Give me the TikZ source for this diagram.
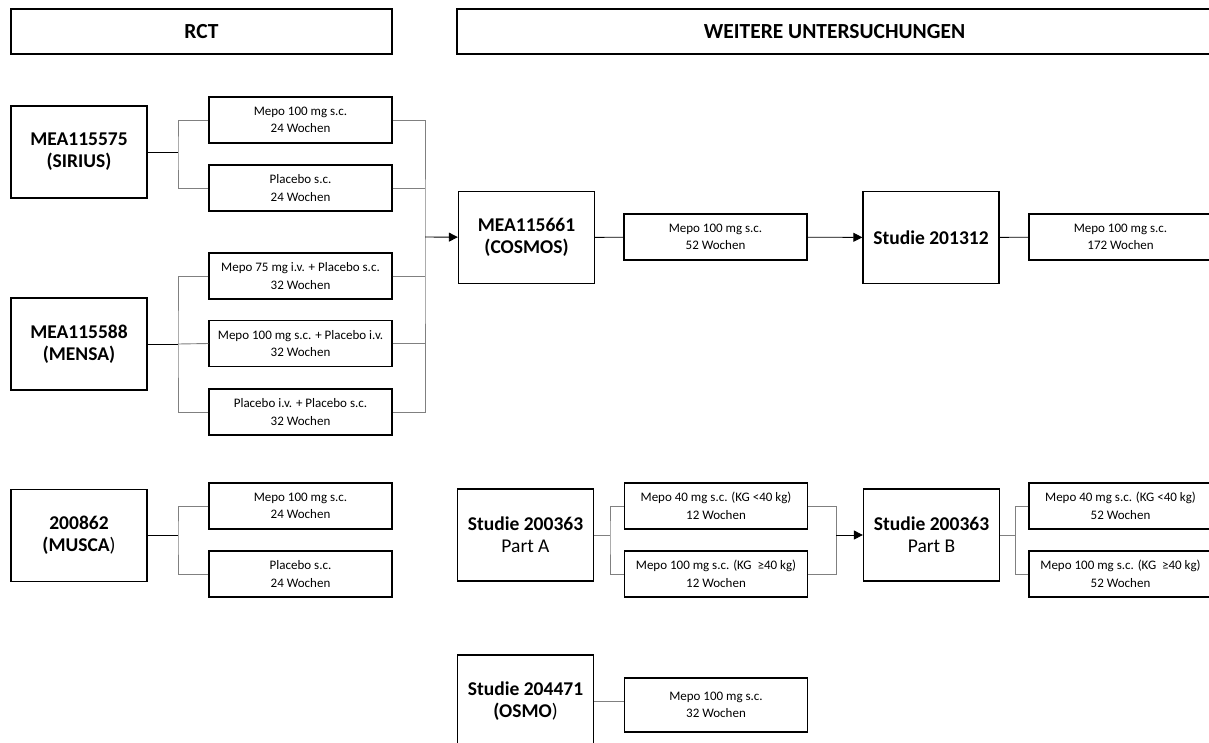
\documentclass[tikz,border=0pt]{standalone}
\usepackage{fontspec}
\setmainfont{Carlito}
\usetikzlibrary{arrows.meta}

\begin{document}
\begin{tikzpicture}[x=1pt,y=-1pt,
  head/.style={draw,line width=1.6pt,minimum height=45pt,inner sep=0pt,font=\fontsize{21.5}{24}\selectfont\bfseries},
  study/.style={draw,line width=1.3pt,minimum width=136pt,minimum height=92pt,inner sep=0pt,align=center,font=\fontsize{19.5}{22}\selectfont\bfseries},
  arm/.style={draw,line width=1.3pt,minimum width=183pt,minimum height=46pt,inner sep=0pt,align=center,font=\fontsize{13}{17.5}\selectfont},
  tree/.style={draw=black!50,line width=0.9pt},
  link/.style={draw=black,line width=0.9pt},
  flow/.style={link,-{Triangle[length=9pt,width=9pt]}}]
\useasboundingbox (0,0) rectangle (1209,742);
\clip (0,0) rectangle (1209,742);

% headers
\node[head,minimum width=381pt] (rct) at (201.5,31.5) {RCT};
\node[head,minimum width=755pt] (weitere) at (834.5,31.5) {WEITERE UNTERSUCHUNGEN};

% RCT
\node[study] (sirius) at (79,152) {MEA115575\\(SIRIUS)};
\node[arm] (sirA) at (300.5,120) {Mepo 100 mg s.c.\\24 Wochen};
\node[arm] (sirB) at (300.5,188) {Placebo s.c.\\24 Wochen};

\node[study] (mensa) at (79,344) {MEA115588\\(MENSA)};
\node[arm] (menA) at (300.5,276) {Mepo 75 mg i.v. + Placebo s.c.\\32 Wochen};
\node[arm] (menB) at (300.5,343.5) {Mepo 100 mg s.c. + Placebo i.v.\\32 Wochen};
\node[arm] (menC) at (300.5,412) {Placebo i.v. + Placebo s.c.\\32 Wochen};

\node[study] (musca) at (79,535.5) {200862\\(MUSCA\textmd{)}};
\node[arm] (musA) at (300.5,506) {Mepo 100 mg s.c.\\24 Wochen};
\node[arm] (musB) at (300.5,574) {Placebo s.c.\\24 Wochen};

% weitere Untersuchungen
\node[study] (cosmos) at (526.5,237.5) {MEA115661\\(COSMOS)};
\node[arm] (cosA) at (715.5,237) {Mepo 100 mg s.c.\\52 Wochen};
\node[study] (sEins) at (931,237.5) {Studie 201312};
\node[arm] (sEinsA) at (1120.5,237) {Mepo 100 mg s.c.\\172 Wochen};

\node[study] (partA) at (525.5,535) {Studie 200363\\\mdseries Part A};
\node[arm] (paA) at (716,506) {Mepo 40 mg s.c. (KG <40 kg)\\12 Wochen};
\node[arm] (paB) at (716,574) {Mepo 100 mg s.c. (KG \ ≥40 kg)\\12 Wochen};
\node[study] (partB) at (931.5,535) {Studie 200363\\\mdseries Part B};
\node[arm] (pbA) at (1120.5,506) {Mepo 40 mg s.c. (KG <40 kg)\\52 Wochen};
\node[arm] (pbB) at (1120.5,574) {Mepo 100 mg s.c. (KG \ ≥40 kg)\\52 Wochen};

\node[study] (osmo) at (525.5,701) {Studie 204471\\(OSMO\textmd{)}};
\node[arm,minimum height=54pt] (osmoA) at (716,705) {Mepo 100 mg s.c.\\32 Wochen};

% junctions
\coordinate (sirJ) at (178,152);
\coordinate (menJ) at (178,344);
\coordinate (musJ) at (178,535.5);
\coordinate (rctBus) at (425,237);
\coordinate (paJ) at (610,535);
\coordinate (paBus) at (836,535);
\coordinate (pbJ) at (1015,535);

\draw[link] (sirius) -- (sirJ);
\draw[tree] (sirA.west) -| (sirJ) |- (sirB.west);
\draw[link] (mensa) -- (menJ);
\draw[tree] (menA.west) -| (menJ) |- (menC.west);
\draw[tree] (menB.west) -- (menJ);
\draw[link] (musca) -- (musJ);
\draw[tree] (musA.west) -| (musJ) |- (musB.west);

\draw[tree] (sirA.east) -| (rctBus) |- (menC.east);
\foreach \a in {sirB,menA,menB}
  \draw[tree] (\a.east) -- (\a.east -| rctBus);
\draw[flow] (rctBus) -- (cosmos);

\draw[link] (cosmos) -- (cosA);
\draw[flow] (cosA) -- (sEins);
\draw[link] (sEins) -- (sEinsA);

\draw[tree] (partA) -- (paJ);
\draw[tree] (paA.west) -| (paJ) |- (paB.west);
\draw[tree] (paA.east) -| (paBus) |- (paB.east);
\draw[flow] (paBus) -- (partB);
\draw[tree] (partB) -- (pbJ);
\draw[tree] (pbA.west) -| (pbJ) |- (pbB.west);
\draw[tree] (osmo.east) -- (osmo.east -| osmoA.west);

\end{tikzpicture}
\end{document}
